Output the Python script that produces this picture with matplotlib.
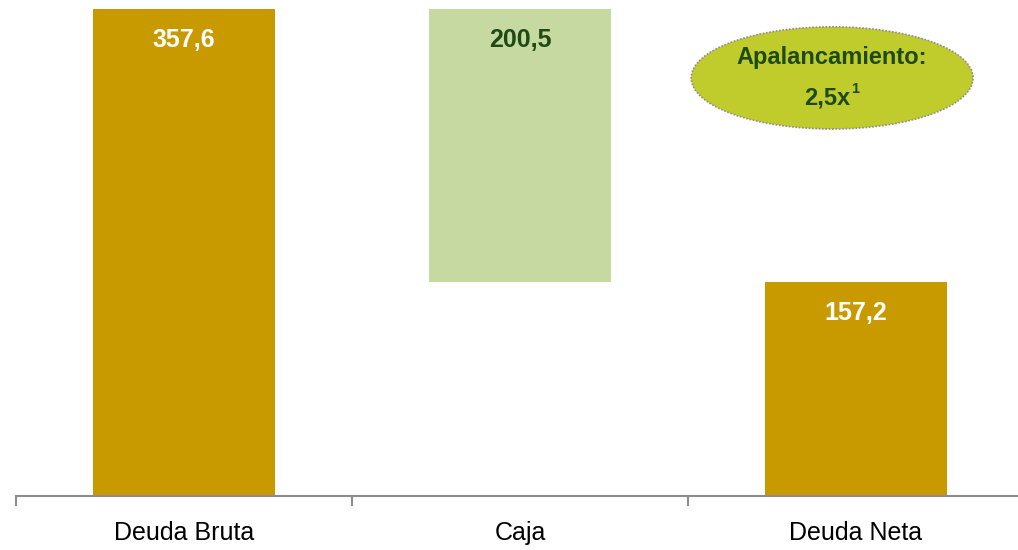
import matplotlib
matplotlib.use('Agg')
import matplotlib.pyplot as plt
from matplotlib.patches import Ellipse

plt.rcParams['font.family'] = ['Liberation Sans', 'DejaVu Sans']

# Deuda bruta - caja = deuda neta (MM)
categories = ['Deuda Bruta', 'Caja', 'Deuda Neta']
deuda_bruta = 357.6
caja = 200.5
deuda_neta = 157.2
labels = ['357,6', '200,5', '157,2']

gold = '#C99A00'
light_green = '#C5D9A0'
dark_green = '#1F4A14'

heights = [deuda_bruta, caja, deuda_neta]
bottoms = [0, deuda_neta, 0]
colors = [gold, light_green, gold]
label_colors = ['white', dark_green, 'white']

fig = plt.figure(figsize=(10.18, 5.5), dpi=100)
ax = fig.add_axes([16 / 1018, 54 / 550, 1008 / 1018, 487 / 550])

x = range(len(categories))
ax.bar(x, heights, bottom=bottoms, width=0.54, color=colors, zorder=2)

for xi, h, b, lab, c in zip(x, heights, bottoms, labels, label_colors):
    ax.annotate(lab, (xi, b + h), xytext=(0, -31), textcoords='offset pixels',
                ha='center', va='center', fontsize=18, fontweight='bold', color=c)

ax.set_xlim(-0.5, 2.5)
ax.set_ylim(0, deuda_bruta)
ax.set_xticks([-0.5, 0.5, 1.5, 2.5], minor=False)
ax.set_xticklabels([])
ax.set_xticks(list(x), minor=True)
ax.set_xticklabels(categories, minor=True, fontsize=18)
ax.tick_params(axis='x', which='major', length=7, width=1.5, color='#8C8C8C', direction='out')
ax.tick_params(axis='x', which='minor', length=0, pad=18)
ax.set_yticks([])
for side in ['top', 'right', 'left']:
    ax.spines[side].set_visible(False)
ax.spines['bottom'].set_color('#8C8C8C')
ax.spines['bottom'].set_linewidth(1.5)

# leverage bubble
cx, cy = 1.929, 307
ell = Ellipse((cx, cy), width=0.839, height=75, facecolor='#BFCC2C',
              edgecolor='#8C8C8C', linestyle=(0, (1, 1)), linewidth=1.2,
              clip_on=False, zorder=3)
ax.add_patch(ell)
txt = dict(textcoords='offset pixels', fontweight='bold', color=dark_green, zorder=4)
ax.annotate('Apalancamiento:', (cx, cy), xytext=(0, 20), ha='center', va='center',
            fontsize=17, **txt)
ax.annotate('2,5x', (cx, cy), xytext=(18, -20), ha='right', va='center',
            fontsize=17, **txt)
ax.annotate('1', (cx, cy), xytext=(19, -11), ha='left', va='center',
            fontsize=10.5, **txt)

fig.savefig('out.png', dpi=100)
